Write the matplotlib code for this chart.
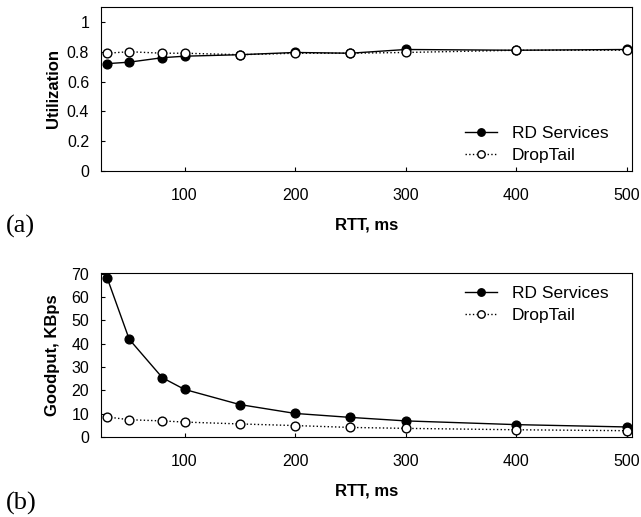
import matplotlib.pyplot as plt

# RTT values (ms)
rtt = [30, 50, 80, 100, 150, 200, 250, 300, 400, 500]

# (a) utilization
util_rd = [0.72, 0.73, 0.76, 0.77, 0.78, 0.795, 0.79, 0.815, 0.81, 0.815]
util_dt = [0.79, 0.80, 0.79, 0.79, 0.78, 0.79, 0.79, 0.795, 0.81, 0.81]

# (b) goodput, KBps
good_rd = [68.3, 41.9, 25.4, 20.4, 13.9, 10.1, 8.4, 6.9, 5.3, 4.3]
good_dt = [8.6, 7.4, 6.9, 6.4, 5.6, 4.9, 4.1, 3.7, 3.1, 2.7]

plt.rcParams['font.family'] = ['Liberation Sans', 'DejaVu Sans']

W, H = 641, 517
fig = plt.figure(figsize=(W / 100, H / 100), dpi=100)
ax1 = fig.add_axes([101 / W, 1 - 171 / H, 531 / W, 164 / H])
ax2 = fig.add_axes([101 / W, 1 - 437 / H, 531 / W, 164 / H])


def draw(ax, rd, dt, ylabel, ylim, yticks, ylabelpad, leg_top):
    ax.plot(rtt, rd, color='black', lw=1.0, marker='o', ms=6.3,
            mfc='black', mec='black', label='RD Services')
    ax.plot(rtt, dt, color='black', lw=1.0, ls=':', marker='o', ms=6.3,
            mfc='white', mec='black', label='DropTail')
    ax.set_xlim(24.5, 504.5)
    ax.set_ylim(*ylim)
    ax.set_xticks([100, 200, 300, 400, 500])
    ax.set_yticks(yticks)
    ax.tick_params(direction='in', length=3, labelsize=11.5)
    ax.tick_params(axis='y', pad=8.5)
    ax.tick_params(axis='x', pad=12)
    ax.set_xlabel('RTT, ms', fontweight='bold', fontsize=12, labelpad=11)
    ax.set_ylabel(ylabel, fontweight='bold', fontsize=12, labelpad=ylabelpad)
    ax.legend(loc='upper left', bbox_to_anchor=(465 / W, 1 - leg_top / H),
              bbox_transform=fig.transFigure, frameon=False, fontsize=12.5,
              borderpad=0, borderaxespad=0, handlelength=1.84,
              handletextpad=0.86, markerscale=0.85, labelspacing=0.4)


draw(ax1, util_rd, util_dt, 'Utilization', (0, 1.1),
     [0, 0.2, 0.4, 0.6, 0.8, 1], 4, 126)
ax1.set_yticklabels(['0', '0.2', '0.4', '0.6', '0.8', '1'])
draw(ax2, good_rd, good_dt, 'Goodput, KBps', (0, 70.3),
     [0, 10, 20, 30, 40, 50, 60, 70], 8, 286)

fig.text(6 / W, 1 - 226 / H, '(a)', fontsize=19, family='Liberation Serif',
         va='center', ha='left')
fig.text(6 / W, 1 - 503 / H, '(b)', fontsize=19, family='Liberation Serif',
         va='center', ha='left')

fig.savefig('out.png', dpi=100)
